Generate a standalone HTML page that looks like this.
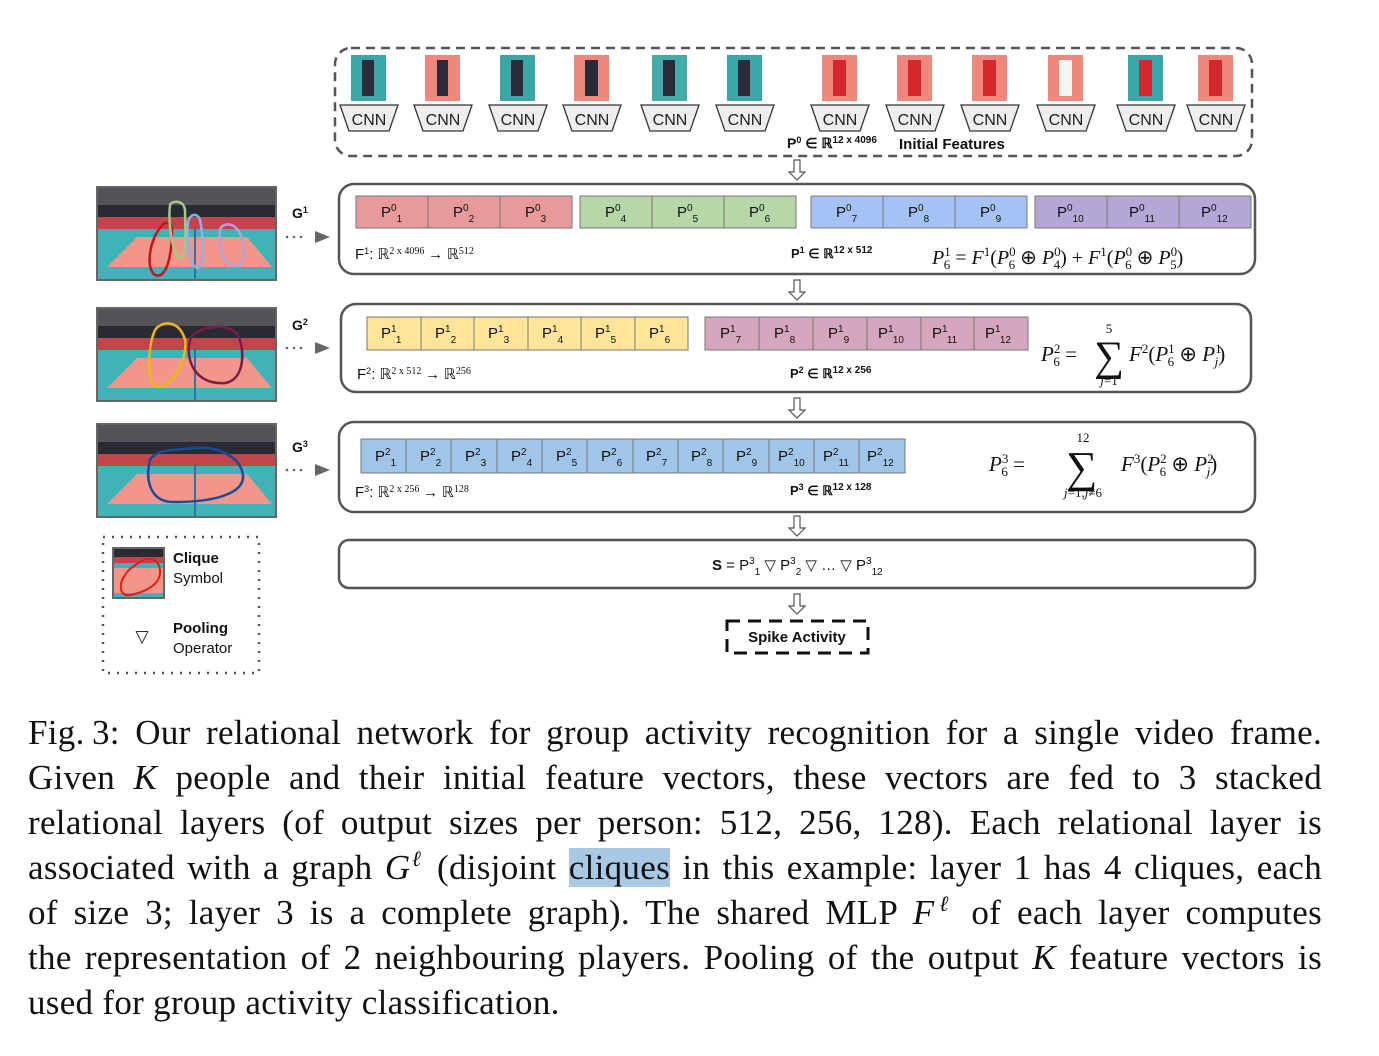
<!DOCTYPE html>
<html><head><meta charset="utf-8"><style>
html,body{margin:0;padding:0;background:#fff;}
body{width:1379px;height:1056px;position:relative;overflow:hidden;}
svg{position:absolute;left:0;top:0;}
.cap{position:absolute;left:28px;width:1294px;font-family:"Liberation Serif",serif;font-size:35px;letter-spacing:0.3px;color:#111;white-space:nowrap;}
.j{text-align:justify;text-align-last:justify;white-space:normal;}
.hl{background:#a8c8e4;}
i{font-style:italic;}
</style></head><body>
<svg width="1379" height="700" viewBox="0 0 1379 700" font-family="Liberation Sans, sans-serif">
<defs>
<g id="court">
<rect x="0" y="0" width="179" height="93" fill="#3fb3b8"/>
<rect x="0" y="0" width="179" height="18" fill="#55525a"/>
<rect x="0" y="18" width="179" height="12" fill="#2a2a33"/>
<rect x="0" y="30" width="179" height="12" fill="#c2454c"/>
<polygon points="10,80 40,50 150,50 175,80" fill="#f2968a"/>
<line x1="98" y1="40" x2="98" y2="93" stroke="#3b6ea0" stroke-width="2"/>
<rect x="0" y="0" width="179" height="93" fill="none" stroke="#666" stroke-width="2"/>
</g>
<g id="harrow"><path d="M-3,0 h6 v12 h5 l-8,8 l-8,-8 h5 z" fill="#fff" stroke="#555" stroke-width="1.2"/></g>
</defs>

<rect x="335" y="48" width="917" height="108" rx="16" fill="none" stroke="#555" stroke-width="2.5" stroke-dasharray="9,6"/>
<g fill="#f0877c">
<rect x="351" y="55" width="35" height="46" fill="#3aa6a8"/><rect x="425" y="55" width="35" height="46"/><rect x="500" y="55" width="35" height="46" fill="#3aa6a8"/><rect x="574" y="55" width="35" height="46"/><rect x="652" y="55" width="35" height="46" fill="#4aa"/><rect x="727" y="55" width="35" height="46" fill="#3aa6a8"/><rect x="822" y="55" width="35" height="46"/><rect x="897" y="55" width="35" height="46"/><rect x="972" y="55" width="35" height="46"/><rect x="1048" y="55" width="35" height="46"/><rect x="1128" y="55" width="35" height="46" fill="#3aa6a8"/><rect x="1198" y="55" width="35" height="46"/>
</g>
<g fill="#2a2a38">
<rect x="362" y="60" width="12" height="36"/><rect x="437" y="60" width="11" height="36"/><rect x="511" y="60" width="12" height="36"/><rect x="585" y="60" width="13" height="36"/><rect x="663" y="60" width="12" height="36"/><rect x="738" y="60" width="12" height="36"/>
</g>
<g fill="#d8262e">
<rect x="833" y="60" width="13" height="36"/><rect x="908" y="60" width="13" height="36"/><rect x="983" y="60" width="13" height="36"/><rect x="1139" y="60" width="13" height="36"/><rect x="1209" y="60" width="13" height="36"/>
</g>
<rect x="1059" y="60" width="13" height="36" fill="#f4f4f4"/>
<g fill="#eee" stroke="#333" stroke-width="1.3">
<polygon points="340,105 398,105 389,131 349,131"/><polygon points="414,105 472,105 463,131 423,131"/><polygon points="489,105 547,105 538,131 498,131"/><polygon points="563,105 621,105 612,131 572,131"/><polygon points="641,105 699,105 690,131 650,131"/><polygon points="716,105 774,105 765,131 725,131"/><polygon points="811,105 869,105 860,131 820,131"/><polygon points="886,105 944,105 935,131 895,131"/><polygon points="961,105 1019,105 1010,131 970,131"/><polygon points="1037,105 1095,105 1086,131 1046,131"/><polygon points="1117,105 1175,105 1166,131 1126,131"/><polygon points="1187,105 1245,105 1236,131 1196,131"/>
</g>
<g font-size="16" text-anchor="middle" fill="#222">
<text x="369" y="125">CNN</text><text x="443" y="125">CNN</text><text x="518" y="125">CNN</text><text x="592" y="125">CNN</text><text x="670" y="125">CNN</text><text x="745" y="125">CNN</text><text x="840" y="125">CNN</text><text x="915" y="125">CNN</text><text x="990" y="125">CNN</text><text x="1066" y="125">CNN</text><text x="1146" y="125">CNN</text><text x="1216" y="125">CNN</text>
</g>
<text x="787" y="148" font-size="14" font-weight="bold" fill="#111">P<tspan dy="-5" font-size="9">0</tspan><tspan dy="5"> ∈ ℝ</tspan><tspan dy="-5" font-size="10">12 x 4096</tspan></text>
<text x="899" y="149" font-size="15" font-weight="bold" fill="#111">Initial Features</text>

<use href="#harrow" x="797" y="160"/>
<use href="#harrow" x="797" y="280"/>
<use href="#harrow" x="797" y="398"/>
<use href="#harrow" x="797" y="516"/>
<use href="#harrow" x="797" y="594"/>

<g fill="none" stroke="#555" stroke-width="2.5">
<rect x="339" y="184" width="916" height="90" rx="15"/>
<rect x="341" y="304" width="910" height="88" rx="15"/>
<rect x="339" y="422" width="916" height="90" rx="15"/>
<rect x="339" y="540" width="916" height="48" rx="10"/>
</g>

<g stroke="#777" stroke-width="1">
<g fill="#e8999a"><rect x="356" y="196" width="72" height="32"/><rect x="428" y="196" width="72" height="32"/><rect x="500" y="196" width="72" height="32"/></g>
<g fill="#b7d7a8"><rect x="580" y="196" width="72" height="32"/><rect x="652" y="196" width="72" height="32"/><rect x="724" y="196" width="72" height="32"/></g>
<g fill="#a4c2f4"><rect x="811" y="196" width="72" height="32"/><rect x="883" y="196" width="72" height="32"/><rect x="955" y="196" width="72" height="32"/></g>
<g fill="#b4a7d6"><rect x="1035" y="196" width="72" height="32"/><rect x="1107" y="196" width="72" height="32"/><rect x="1179" y="196" width="72" height="32"/></g>
</g>
<g font-size="15" fill="#111">
<text x="381" y="217">P<tspan dy="-6" font-size="10">0</tspan><tspan dy="11" font-size="10">1</tspan></text>
<text x="453" y="217">P<tspan dy="-6" font-size="10">0</tspan><tspan dy="11" font-size="10">2</tspan></text>
<text x="525" y="217">P<tspan dy="-6" font-size="10">0</tspan><tspan dy="11" font-size="10">3</tspan></text>
<text x="605" y="217">P<tspan dy="-6" font-size="10">0</tspan><tspan dy="11" font-size="10">4</tspan></text>
<text x="677" y="217">P<tspan dy="-6" font-size="10">0</tspan><tspan dy="11" font-size="10">5</tspan></text>
<text x="749" y="217">P<tspan dy="-6" font-size="10">0</tspan><tspan dy="11" font-size="10">6</tspan></text>
<text x="836" y="217">P<tspan dy="-6" font-size="10">0</tspan><tspan dy="11" font-size="10">7</tspan></text>
<text x="908" y="217">P<tspan dy="-6" font-size="10">0</tspan><tspan dy="11" font-size="10">8</tspan></text>
<text x="980" y="217">P<tspan dy="-6" font-size="10">0</tspan><tspan dy="11" font-size="10">9</tspan></text>
<text x="1057" y="217">P<tspan dy="-6" font-size="10">0</tspan><tspan dy="11" font-size="10">10</tspan></text>
<text x="1129" y="217">P<tspan dy="-6" font-size="10">0</tspan><tspan dy="11" font-size="10">11</tspan></text>
<text x="1201" y="217">P<tspan dy="-6" font-size="10">0</tspan><tspan dy="11" font-size="10">12</tspan></text>
</g>
<text x="355" y="259" font-size="15" fill="#111">F<tspan dy="-5" font-size="9">1</tspan><tspan dy="5">: </tspan><tspan font-family="Liberation Serif">ℝ</tspan><tspan dy="-5" font-size="10" font-family="Liberation Serif">2 x 4096</tspan><tspan dy="5" font-family="Liberation Serif">  → ℝ</tspan><tspan dy="-5" font-size="10" font-family="Liberation Serif">512</tspan></text>
<text x="791" y="258" font-size="13" font-weight="bold" fill="#111">P<tspan dy="-5" font-size="9">1</tspan><tspan dy="5"> ∈ ℝ</tspan><tspan dy="-5" font-size="10">12 x 512</tspan></text>
<text x="932" y="264" font-size="20" font-family="Liberation Serif" fill="#111"><tspan font-style="italic">P</tspan><tspan dy="-8" font-size="13">1</tspan><tspan dx="-7" dy="13" font-size="13">6</tspan><tspan dy="-5"> = </tspan><tspan font-style="italic">F</tspan><tspan dy="-8" font-size="13">1</tspan><tspan dy="8">(</tspan><tspan font-style="italic">P</tspan><tspan dy="-8" font-size="13">0</tspan><tspan dx="-7" dy="13" font-size="13">6</tspan><tspan dy="-5"> ⊕ </tspan><tspan font-style="italic">P</tspan><tspan dy="-8" font-size="13">0</tspan><tspan dx="-7" dy="13" font-size="13">4</tspan><tspan dy="-5">) + </tspan><tspan font-style="italic">F</tspan><tspan dy="-8" font-size="13">1</tspan><tspan dy="8">(</tspan><tspan font-style="italic">P</tspan><tspan dy="-8" font-size="13">0</tspan><tspan dx="-7" dy="13" font-size="13">6</tspan><tspan dy="-5"> ⊕ </tspan><tspan font-style="italic">P</tspan><tspan dy="-8" font-size="13">0</tspan><tspan dx="-7" dy="13" font-size="13">5</tspan><tspan dy="-5">)</tspan></text>

<g stroke="#777" stroke-width="1">
<g fill="#ffe599"><rect x="367" y="317" width="54" height="33"/><rect x="421" y="317" width="53" height="33"/><rect x="474" y="317" width="54" height="33"/><rect x="528" y="317" width="53" height="33"/><rect x="581" y="317" width="54" height="33"/><rect x="635" y="317" width="53" height="33"/></g>
<g fill="#d5a6bd"><rect x="705" y="317" width="54" height="33"/><rect x="759" y="317" width="54" height="33"/><rect x="813" y="317" width="54" height="33"/><rect x="867" y="317" width="54" height="33"/><rect x="921" y="317" width="53" height="33"/><rect x="974" y="317" width="54" height="33"/></g>
</g>
<g font-size="15" fill="#111">
<text x="381" y="338">P<tspan dy="-6" font-size="10">1</tspan><tspan dy="11" font-size="10">1</tspan></text>
<text x="435" y="338">P<tspan dy="-6" font-size="10">1</tspan><tspan dy="11" font-size="10">2</tspan></text>
<text x="488" y="338">P<tspan dy="-6" font-size="10">1</tspan><tspan dy="11" font-size="10">3</tspan></text>
<text x="542" y="338">P<tspan dy="-6" font-size="10">1</tspan><tspan dy="11" font-size="10">4</tspan></text>
<text x="595" y="338">P<tspan dy="-6" font-size="10">1</tspan><tspan dy="11" font-size="10">5</tspan></text>
<text x="649" y="338">P<tspan dy="-6" font-size="10">1</tspan><tspan dy="11" font-size="10">6</tspan></text>
<text x="720" y="338">P<tspan dy="-6" font-size="10">1</tspan><tspan dy="11" font-size="10">7</tspan></text>
<text x="774" y="338">P<tspan dy="-6" font-size="10">1</tspan><tspan dy="11" font-size="10">8</tspan></text>
<text x="828" y="338">P<tspan dy="-6" font-size="10">1</tspan><tspan dy="11" font-size="10">9</tspan></text>
<text x="878" y="338">P<tspan dy="-6" font-size="10">1</tspan><tspan dy="11" font-size="10">10</tspan></text>
<text x="932" y="338">P<tspan dy="-6" font-size="10">1</tspan><tspan dy="11" font-size="10">11</tspan></text>
<text x="985" y="338">P<tspan dy="-6" font-size="10">1</tspan><tspan dy="11" font-size="10">12</tspan></text>
</g>
<text x="357" y="379" font-size="15" fill="#111">F<tspan dy="-5" font-size="9">2</tspan><tspan dy="5">: </tspan><tspan font-family="Liberation Serif">ℝ</tspan><tspan dy="-5" font-size="10" font-family="Liberation Serif">2 x 512</tspan><tspan dy="5" font-family="Liberation Serif">  → ℝ</tspan><tspan dy="-5" font-size="10" font-family="Liberation Serif">256</tspan></text>
<text x="790" y="378" font-size="13" font-weight="bold" fill="#111">P<tspan dy="-5" font-size="9">2</tspan><tspan dy="5"> ∈ ℝ</tspan><tspan dy="-5" font-size="10">12 x 256</tspan></text>
<g font-family="Liberation Serif" fill="#111">
<text x="1041" y="361" font-size="21"><tspan font-style="italic">P</tspan><tspan dy="-8" font-size="13">2</tspan><tspan dx="-7" dy="13" font-size="13">6</tspan><tspan dy="-5"> =</tspan></text>
<text x="1094" y="370" font-size="42">∑</text>
<text x="1109" y="333" font-size="13" text-anchor="middle">5</text>
<text x="1109" y="385" font-size="13" text-anchor="middle" font-style="italic">j<tspan font-style="normal">=1</tspan></text>
<text x="1129" y="361" font-size="21"><tspan font-style="italic">F</tspan><tspan dy="-8" font-size="13">2</tspan><tspan dy="8">(</tspan><tspan font-style="italic">P</tspan><tspan dy="-8" font-size="13">1</tspan><tspan dx="-7" dy="13" font-size="13">6</tspan><tspan dy="-5"> ⊕ </tspan><tspan font-style="italic">P</tspan><tspan dy="-8" font-size="13">1</tspan><tspan dx="-7" dy="13" font-size="13" font-style="italic">j</tspan><tspan dy="-5">)</tspan></text>
</g>

<g stroke="#777" stroke-width="1" fill="#9fc5e8">
<rect x="361" y="439" width="45" height="34"/><rect x="406" y="439" width="45" height="34"/><rect x="451" y="439" width="46" height="34"/><rect x="497" y="439" width="45" height="34"/><rect x="542" y="439" width="45" height="34"/><rect x="587" y="439" width="46" height="34"/><rect x="633" y="439" width="45" height="34"/><rect x="678" y="439" width="45" height="34"/><rect x="723" y="439" width="46" height="34"/><rect x="769" y="439" width="45" height="34"/><rect x="814" y="439" width="45" height="34"/><rect x="859" y="439" width="46" height="34"/>
</g>
<g font-size="15" fill="#111">
<text x="375" y="461">P<tspan dy="-6" font-size="10">2</tspan><tspan dy="11" font-size="10">1</tspan></text>
<text x="420" y="461">P<tspan dy="-6" font-size="10">2</tspan><tspan dy="11" font-size="10">2</tspan></text>
<text x="465" y="461">P<tspan dy="-6" font-size="10">2</tspan><tspan dy="11" font-size="10">3</tspan></text>
<text x="511" y="461">P<tspan dy="-6" font-size="10">2</tspan><tspan dy="11" font-size="10">4</tspan></text>
<text x="556" y="461">P<tspan dy="-6" font-size="10">2</tspan><tspan dy="11" font-size="10">5</tspan></text>
<text x="601" y="461">P<tspan dy="-6" font-size="10">2</tspan><tspan dy="11" font-size="10">6</tspan></text>
<text x="646" y="461">P<tspan dy="-6" font-size="10">2</tspan><tspan dy="11" font-size="10">7</tspan></text>
<text x="691" y="461">P<tspan dy="-6" font-size="10">2</tspan><tspan dy="11" font-size="10">8</tspan></text>
<text x="736" y="461">P<tspan dy="-6" font-size="10">2</tspan><tspan dy="11" font-size="10">9</tspan></text>
<text x="778" y="461">P<tspan dy="-6" font-size="10">2</tspan><tspan dy="11" font-size="10">10</tspan></text>
<text x="823" y="461">P<tspan dy="-6" font-size="10">2</tspan><tspan dy="11" font-size="10">11</tspan></text>
<text x="867" y="461">P<tspan dy="-6" font-size="10">2</tspan><tspan dy="11" font-size="10">12</tspan></text>
</g>
<text x="355" y="497" font-size="15" fill="#111">F<tspan dy="-5" font-size="9">3</tspan><tspan dy="5">: </tspan><tspan font-family="Liberation Serif">ℝ</tspan><tspan dy="-5" font-size="10" font-family="Liberation Serif">2 x 256</tspan><tspan dy="5" font-family="Liberation Serif">   →  ℝ</tspan><tspan dy="-5" font-size="10" font-family="Liberation Serif">128</tspan></text>
<text x="790" y="495" font-size="13" font-weight="bold" fill="#111">P<tspan dy="-5" font-size="9">3</tspan><tspan dy="5"> ∈ ℝ</tspan><tspan dy="-5" font-size="10">12 x 128</tspan></text>
<g font-family="Liberation Serif" fill="#111">
<text x="989" y="471" font-size="21"><tspan font-style="italic">P</tspan><tspan dy="-8" font-size="13">3</tspan><tspan dx="-7" dy="13" font-size="13">6</tspan><tspan dy="-5"> =</tspan></text>
<text x="1066" y="482" font-size="44">∑</text>
<text x="1083" y="442" font-size="13" text-anchor="middle">12</text>
<text x="1083" y="497" font-size="13" text-anchor="middle" font-style="italic">j<tspan font-style="normal">=1,</tspan>j<tspan font-style="normal">≠6</tspan></text>
<text x="1121" y="471" font-size="21"><tspan font-style="italic">F</tspan><tspan dy="-8" font-size="13">3</tspan><tspan dy="8">(</tspan><tspan font-style="italic">P</tspan><tspan dy="-8" font-size="13">2</tspan><tspan dx="-7" dy="13" font-size="13">6</tspan><tspan dy="-5"> ⊕ </tspan><tspan font-style="italic">P</tspan><tspan dy="-8" font-size="13">2</tspan><tspan dx="-7" dy="13" font-size="13" font-style="italic">j</tspan><tspan dy="-5">)</tspan></text>
</g>

<text x="712" y="570" font-size="15" fill="#111"><tspan font-weight="bold">S</tspan> = P<tspan dy="-6" font-size="10">3</tspan><tspan dy="11" font-size="10">1</tspan><tspan dy="-5"> ▽ P</tspan><tspan dy="-6" font-size="10">3</tspan><tspan dy="11" font-size="10">2</tspan><tspan dy="-5"> ▽ … ▽ P</tspan><tspan dy="-6" font-size="10">3</tspan><tspan dy="11" font-size="10">12</tspan></text>

<rect x="727" y="621" width="141" height="32" fill="none" stroke="#111" stroke-width="3" stroke-dasharray="13,8"/>
<text x="797" y="642" font-size="15" font-weight="bold" text-anchor="middle" fill="#111">Spike Activity</text>

<use href="#court" x="97" y="187"/>
<use href="#court" x="97" y="308"/>
<use href="#court" x="97" y="424"/>
<g fill="none" stroke-width="2.5">
<path d="M160,228 C150,240 145,268 155,275 C168,280 172,250 172,230 C172,222 165,220 160,228Z" stroke="#c4151c"/>
<path d="M170,205 C168,220 172,255 180,258 C188,258 185,230 185,210 C184,200 172,200 170,205Z" stroke="#9ccb8a"/>
<path d="M188,222 C186,240 190,268 198,268 C205,265 203,235 200,220 C197,212 190,214 188,222Z" stroke="#8fb0e8"/>
<path d="M220,230 C218,250 225,268 238,266 C248,262 244,238 238,230 C232,222 222,223 220,230Z" stroke="#b4a2d8"/>
<path d="M155,330 C148,345 145,385 158,387 C175,385 188,355 185,340 C180,320 162,320 155,330Z" stroke="#f0b41c"/>
<path d="M190,340 C185,360 195,385 225,383 C245,380 245,350 238,335 C230,322 195,325 190,340Z" stroke="#7a1c4a"/>
<path d="M150,460 C145,480 150,503 175,502 C210,502 245,495 243,475 C240,455 215,446 195,448 C170,450 155,450 150,460Z" stroke="#1a4a9a"/>
</g>
<g font-size="14" font-weight="bold" fill="#111">
<text x="292" y="218">G<tspan dy="-5" font-size="9">1</tspan></text>
<text x="292" y="330">G<tspan dy="-5" font-size="9">2</tspan></text>
<text x="292" y="452">G<tspan dy="-5" font-size="9">3</tspan></text>
</g>
<g fill="#666">
<circle cx="287" cy="237" r="1.3"/><circle cx="294" cy="237" r="1.3"/><circle cx="301" cy="237" r="1.3"/><polygon points="315,231 330,237 315,243"/>
<circle cx="287" cy="348" r="1.3"/><circle cx="294" cy="348" r="1.3"/><circle cx="301" cy="348" r="1.3"/><polygon points="315,342 330,348 315,354"/>
<circle cx="287" cy="470" r="1.3"/><circle cx="294" cy="470" r="1.3"/><circle cx="301" cy="470" r="1.3"/><polygon points="315,464 330,470 315,476"/>
</g>

<rect x="103" y="537" width="156" height="136" fill="none" stroke="#555" stroke-width="2.5" stroke-dasharray="2,7"/>
<rect x="113" y="548" width="51" height="50" fill="#3fb3b8" stroke="#666" stroke-width="2"/>
<rect x="114" y="549" width="49" height="8" fill="#2a2a33"/>
<rect x="114" y="557" width="49" height="6" fill="#c2454c"/>
<rect x="114" y="568" width="49" height="25" fill="#f2968a"/>
<path d="M125,575 C118,585 120,597 130,595 C145,592 160,585 160,572 C160,560 150,555 140,562 C132,567 128,570 125,575Z" fill="none" stroke="#e51c1c" stroke-width="2"/>
<text x="173" y="563" font-size="15" font-weight="bold" fill="#111">Clique</text>
<text x="173" y="583" font-size="15" fill="#111">Symbol</text>
<text x="142" y="642" font-size="17" text-anchor="middle" fill="#111">▽</text>
<text x="173" y="633" font-size="15" font-weight="bold" fill="#111">Pooling</text>
<text x="173" y="653" font-size="15" fill="#111">Operator</text>
</svg>

<div class="cap j" style="top:713px;">Fig.&#8201;3: Our relational network for group activity recognition for a single video frame.</div>
<div class="cap j" style="top:758px;">Given <i>K</i> people and their initial feature vectors, these vectors are fed to 3 stacked</div>
<div class="cap j" style="top:803px;">relational layers (of output sizes per person: 512, 256, 128). Each relational layer is</div>
<div class="cap j" style="top:848px;">associated with a graph <i>G</i><sup style="font-size:22px;line-height:0;margin-left:-2px"><i>ℓ</i></sup> (disjoint <span class="hl">cliques</span> in this example: layer 1 has 4 cliques, each</div>
<div class="cap j" style="top:893px;">of size 3; layer 3 is a complete graph). The shared MLP <i>F</i><sup style="font-size:22px;line-height:0;margin-left:-2px"><i>ℓ</i></sup> of each layer computes</div>
<div class="cap j" style="top:938px;">the representation of 2 neighbouring players. Pooling of the output <i>K</i> feature vectors is</div>
<div class="cap" style="top:983px;">used for group activity classification.</div>
</body></html>
